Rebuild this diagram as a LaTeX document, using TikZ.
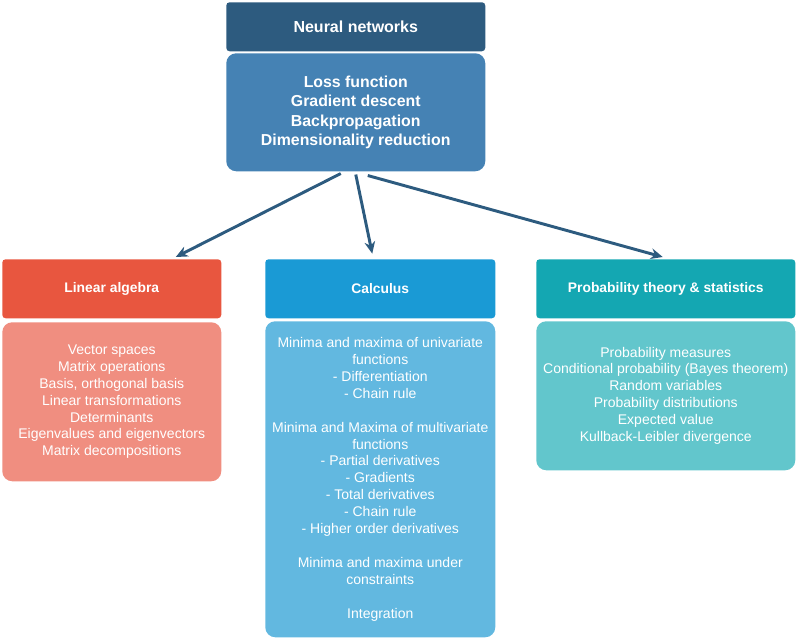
\documentclass[tikz,border=0pt]{standalone}
\usepackage{fontspec}
\setmainfont{Liberation Sans}
\usetikzlibrary{arrows.meta}

\definecolor{nnhead}{HTML}{2D5B7F}
\definecolor{nnbody}{HTML}{4582B4}
\definecolor{lahead}{HTML}{E8563F}
\definecolor{labody}{HTML}{F08E80}
\definecolor{calchead}{HTML}{1A9AD5}
\definecolor{calcbody}{HTML}{62B8E0}
\definecolor{probhead}{HTML}{14A7B2}
\definecolor{probbody}{HTML}{62C6CC}

\tikzset{
	head/.style={rectangle, rounded corners=2.5pt, anchor=north west, text=white, align=center, inner sep=0pt, font=\fontsize{10.4}{12}\selectfont\bfseries},
	body/.style={rectangle, rounded corners=7.5pt, anchor=north west, text=white, align=center, inner sep=0pt, font=\fontsize{10.5}{12.7}\selectfont},
	link/.style={draw=nnhead, line width=2.2pt, -{Stealth[length=9pt,width=8pt]}}
}

\begin{document}
\begin{tikzpicture}[x=0.75pt, y=-0.75pt]

	\useasboundingbox (0,0) rectangle (797,639);

	% neural networks
	\node[head, fill=nnhead, minimum width=194.25pt, minimum height=36.75pt, font=\fontsize{12}{14}\selectfont\bfseries] (nn) at (226,2) {Neural networks};
	\node[body, fill=nnbody, minimum width=194.25pt, minimum height=88.5pt, font=\fontsize{11.9}{14.6}\selectfont\bfseries] (nnbody) at (226,53)
		{Loss function\\Gradient descent\\Backpropagation\\Dimensionality reduction};

	% linear algebra
	\node[head, fill=lahead, minimum width=164.25pt, minimum height=44.25pt] (la) at (2,259) {Linear algebra};
	\node[body, fill=labody, minimum width=164.25pt, minimum height=119.25pt] (labody) at (2,322)
		{Vector spaces\\Matrix operations\\Basis, orthogonal basis\\Linear transformations\\Determinants\\Eigenvalues and eigenvectors\\Matrix decompositions};

	% calculus
	\node[head, fill=calchead, minimum width=172.5pt, minimum height=44.25pt] (calc) at (265,259) {Calculus};
	\node[body, fill=calcbody, minimum width=172.5pt, minimum height=237pt] (calcbody) at (265,321)
		{Minima and maxima of univariate\\functions\\- Differentiation\\- Chain rule\\[12.7pt]
		Minima and Maxima of multivariate\\functions\\- Partial derivatives\\- Gradients\\- Total derivatives\\- Chain rule\\- Higher order derivatives\\[12.7pt]
		Minima and maxima under\\constraints\\[12.7pt]
		Integration};

	% probability
	\node[head, fill=probhead, minimum width=194.25pt, minimum height=44.25pt] (prob) at (536,259) {Probability theory \& statistics};
	\node[body, fill=probbody, minimum width=194.25pt, minimum height=111.75pt] (probbody) at (536,321)
		{Probability measures\\Conditional probability (Bayes theorem)\\Random variables\\Probability distributions\\Expected value\\Kullback-Leibler divergence};

	% arrows
	\draw[link] ([xshift=-11.25pt, yshift=-1.5pt]nnbody.south) -- ([xshift=48pt, yshift=1.5pt]la.north);
	\draw[link] ([yshift=-2.25pt]nnbody.south) -- ([xshift=-6pt, yshift=4pt]calc.north);
	\draw[link] ([xshift=9pt, yshift=-3pt]nnbody.south) -- ([xshift=-2.25pt, yshift=1.5pt]prob.north);

\end{tikzpicture}
\end{document}
